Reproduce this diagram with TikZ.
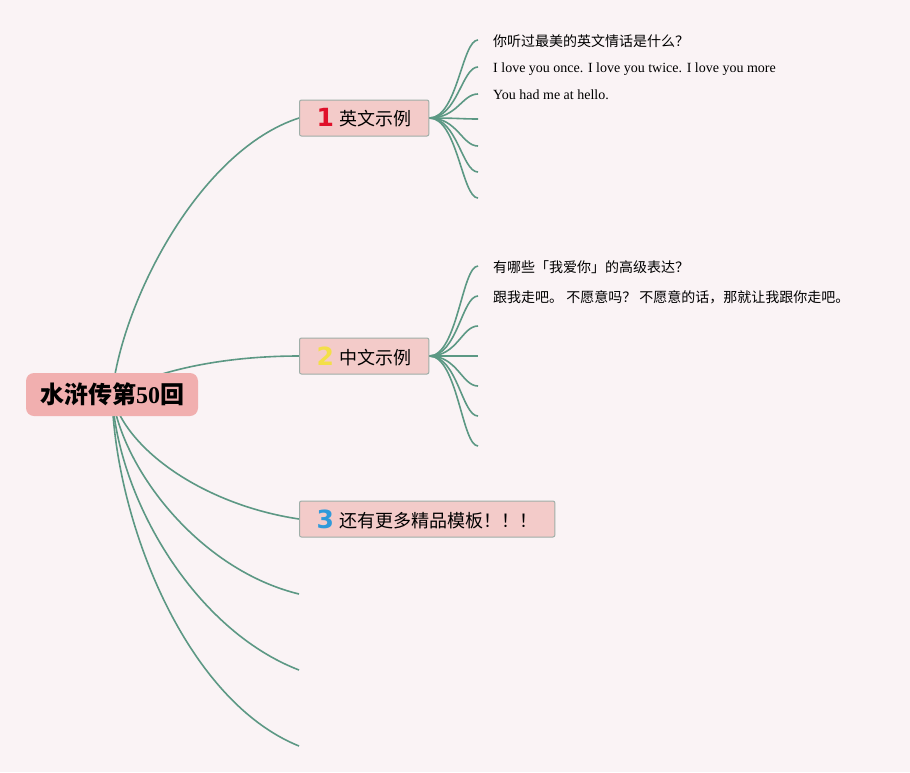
\documentclass[tikz,border=0pt]{standalone}
\usepackage{fontspec}
\setmainfont{Liberation Serif}
\newfontfamily\cjk{Noto Sans CJK SC}
\newfontfamily\numfont{DejaVu Sans}
\definecolor{bgpink}{HTML}{FAF3F5}
\definecolor{rootpink}{HTML}{F1AFAF}
\definecolor{topicpink}{HTML}{F3CBC9}
\definecolor{topicline}{HTML}{9FAEA8}
\definecolor{linkgreen}{HTML}{5C9884}
\definecolor{numred}{HTML}{E0102A}
\definecolor{numyellow}{HTML}{F3DF48}
\definecolor{numblue}{HTML}{2F9ADA}
\pgfdeclarelayer{back}
\pgfdeclarelayer{links}
\pgfsetlayers{back,links,main}
\newcommand{\topicnum}[2]{\raisebox{-1pt}{\numfont\bfseries\fontsize{25}{25}\selectfont\color{#1}#2}\hspace{6pt}}
\tikzset{
  root/.style={fill=rootpink, rounded corners=8pt, inner xsep=14pt, minimum height=43pt,
    font=\cjk\bfseries\fontsize{24}{24}\selectfont},
  topic/.style={anchor=west, fill=topicpink, draw=topicline, line width=1pt, rounded corners=2pt,
    minimum height=36pt, inner ysep=0pt, inner xsep=17pt, font=\cjk\fontsize{18}{18}\selectfont},
  leaf/.style={anchor=west, inner sep=0pt, font=\cjk\fontsize{14}{14}\selectfont},
  english/.style={font=\rmfamily\fontsize{14}{14}\selectfont},
  link/.style={draw=linkgreen, line width=1.6pt}
}

\begin{document}
\begin{tikzpicture}[x=1pt,y=-1pt]
        % Page and background
        \useasboundingbox (0,0) rectangle (910,772);
        \begin{pgfonlayer}{back}
          \fill[bgpink] (0,0) rectangle (910,772);
        \end{pgfonlayer}

        % Central topic
        \node[root] (root) at (112,394.5) {水浒传第{\rmfamily 50}回};

        % Main topics
        \node[topic] (t1) at (299,118) {\topicnum{numred}{1}英文示例};
        \node[topic] (t2) at (299,356) {\topicnum{numyellow}{2}中文示例};
        \node[topic] (t3) at (299,519) {\topicnum{numblue}{3}还有更多精品模板！！！};

        % Empty main branches
        \coordinate (r4) at (299,594);
        \coordinate (r5) at (299,670);
        \coordinate (r6) at (299,746);

        % Subtopic texts
        \node[leaf] (a1) at (493,41) {你听过最美的英文情话是什么？};
        \node[leaf,english] (a2) at (493,69) {I love you once. I love you twice. I love you more};
        \node[leaf,english] (a3) at (493,95) {You had me at hello.};
        \node[leaf] (b1) at (493,267) {有哪些「我爱你」的高级表达？};
        \node[leaf] (b2) at (493,297) {跟我走吧。 不愿意吗？ 不愿意的话，那就让我跟你走吧。};

        \begin{pgfonlayer}{links}
          % Branches from the centre
          \draw[link] (root.center) .. controls (122,300) and (200,150) .. (t1.west);
          \draw[link] (root.center) .. controls (160,368) and (230,356) .. (t2.west);
          \draw[link] (root.center) .. controls (125,450) and (205,505) .. (t3.west);
          \draw[link] (root.center) .. controls (122,470) and (200,570) .. (r4);
          \draw[link] (root.center) .. controls (118,500) and (195,630) .. (r5);
          \draw[link] (root.center) .. controls (115,520) and (185,700) .. (r6);

          % Sub branches of topic 1 and topic 2
          \foreach \y [count=\i] in {40,67,94,119,146,172,198} {
            \coordinate (a-\i) at (478,\y);
            \draw[link] (t1.east) .. controls +(28,0) and +(-16,0) .. (a-\i);
          }
          \foreach \y [count=\i] in {266,296,326,356,386,416,446} {
            \coordinate (b-\i) at (478,\y);
            \draw[link] (t2.east) .. controls +(28,0) and +(-16,0) .. (b-\i);
          }
        \end{pgfonlayer}
\end{tikzpicture}
\end{document}
